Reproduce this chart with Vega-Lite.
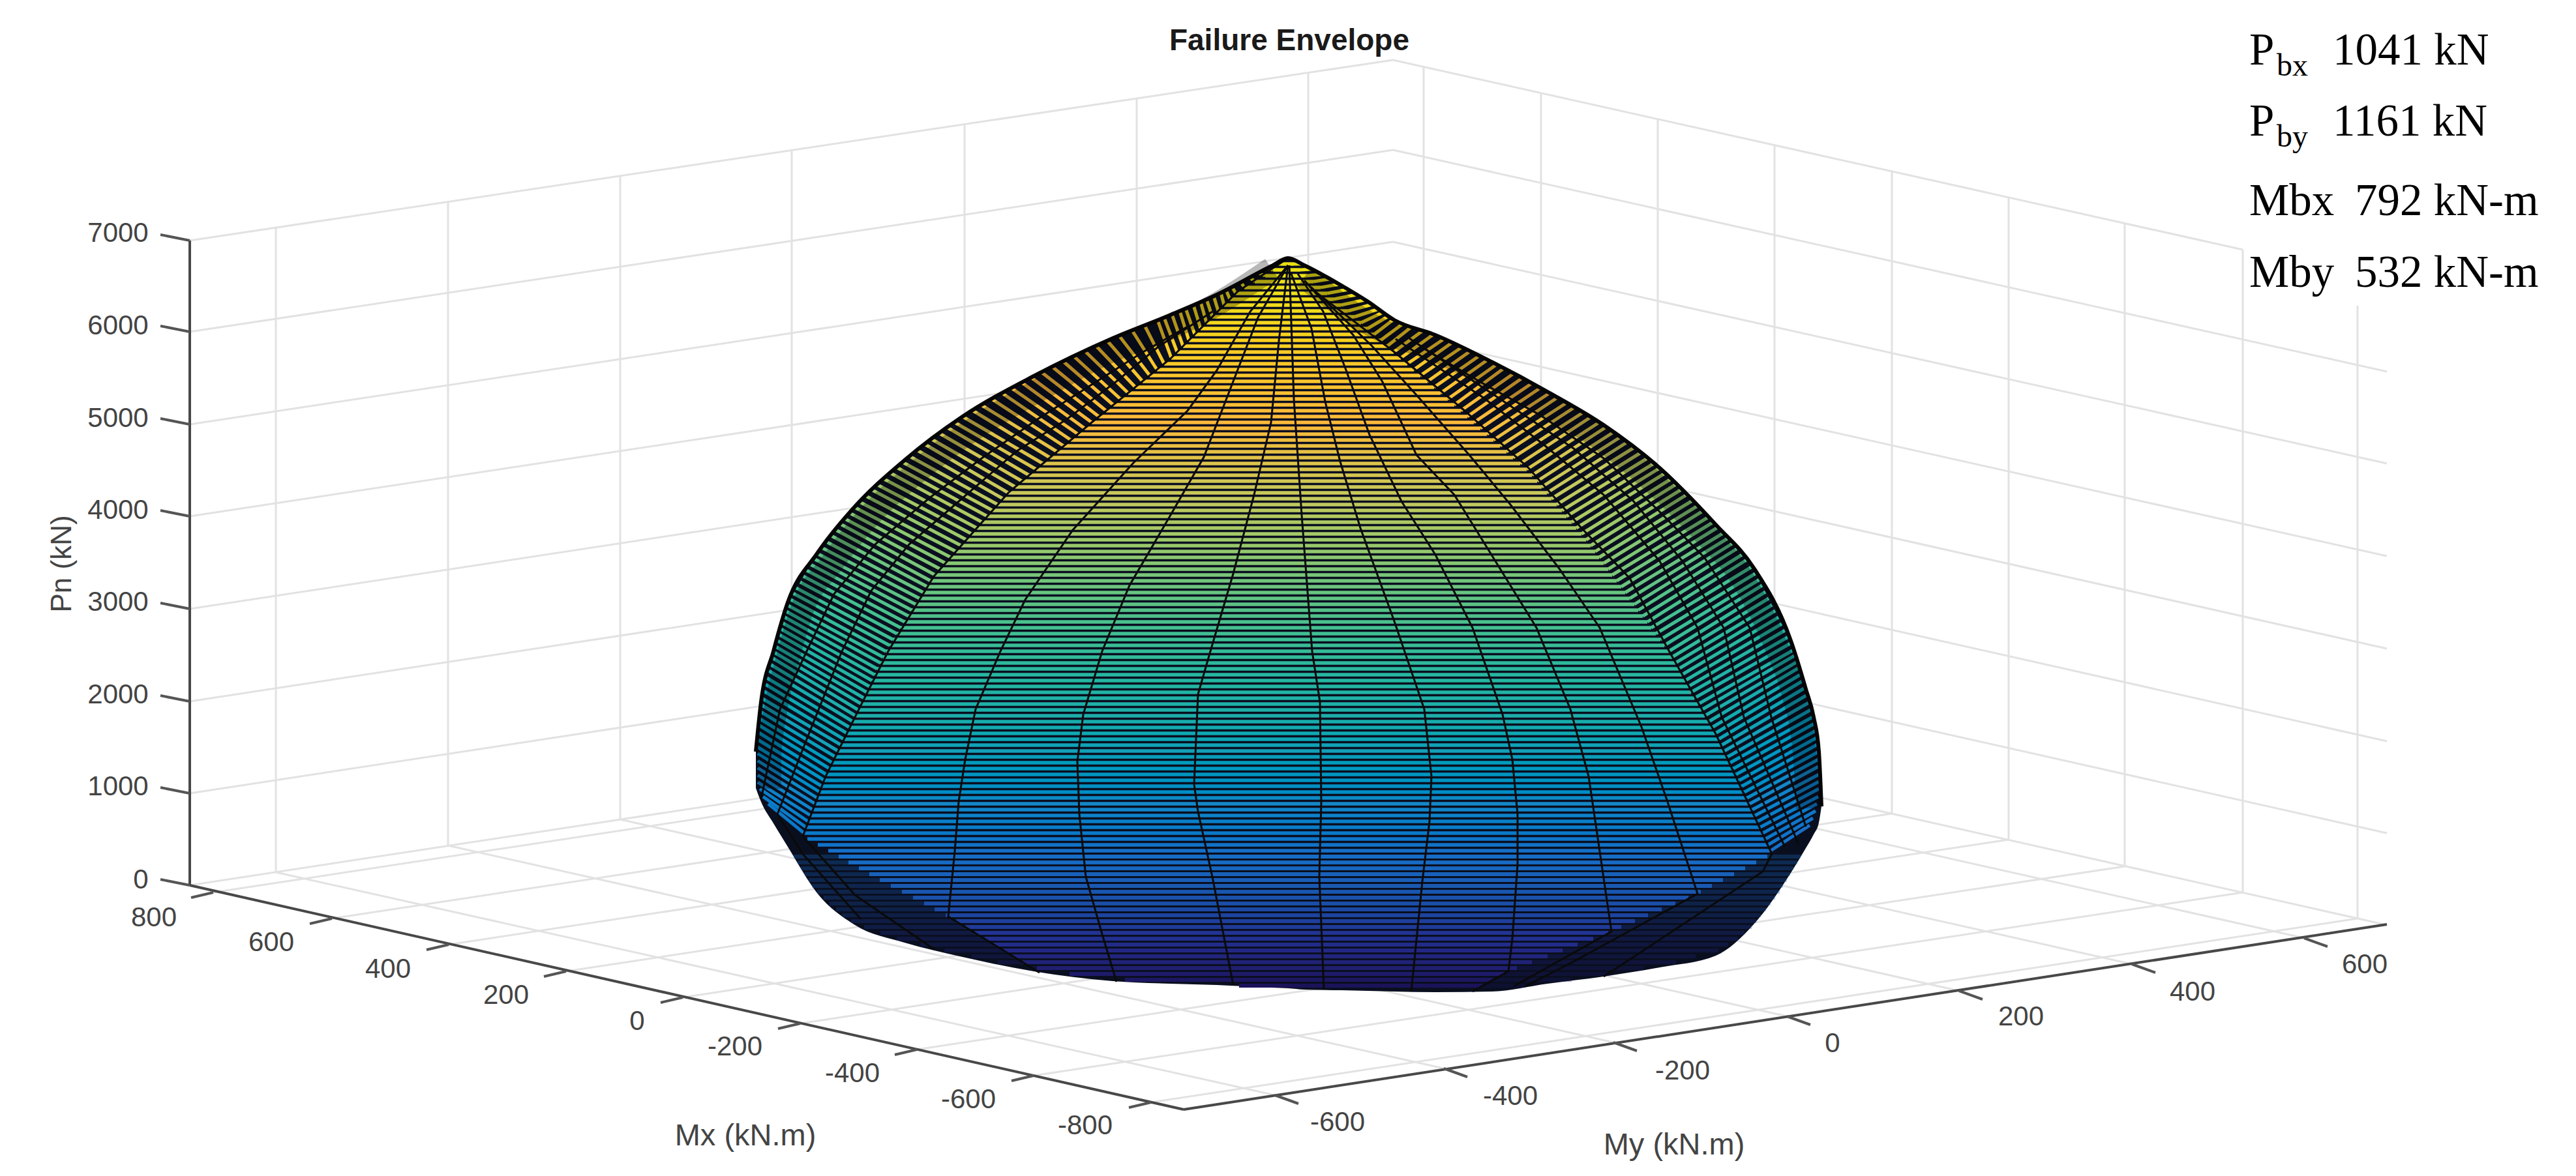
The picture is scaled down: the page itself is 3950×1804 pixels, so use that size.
{"$schema":"https://vega.github.io/schema/vega-lite/v6.json","width":3950,"height":1804,"padding":0,"autosize":{"type":"fit","contains":"padding"},"background":"white","view":{"stroke":null},
"datasets":{
"grid":[
{"u":291,"v":369,"u2":2136,"v2":92},{"u":291,"v":509,"u2":2136,"v2":230},{"u":291,"v":651,"u2":2136,"v2":371},{"u":291,"v":792,"u2":2136,"v2":512},{"u":291,"v":934,"u2":2136,"v2":653},{"u":291,"v":1076,"u2":2136,"v2":794},{"u":291,"v":1217,"u2":2136,"v2":935},{"u":291,"v":1358,"u2":2136,"v2":1076},
{"u":2136,"v":92,"u2":3439,"v2":383},{"u":2136,"v":230,"u2":3660,"v2":570},{"u":2136,"v":371,"u2":3660,"v2":711},{"u":2136,"v":512,"u2":3660,"v2":853},{"u":2136,"v":653,"u2":3660,"v2":995},{"u":2136,"v":794,"u2":3660,"v2":1137},{"u":2136,"v":935,"u2":3660,"v2":1278},{"u":2136,"v":1076,"u2":3660,"v2":1419},
{"u":423,"v":349,"u2":423,"v2":1338},{"u":687,"v":310,"u2":687,"v2":1297},{"u":951,"v":270,"u2":951,"v2":1257},{"u":1214,"v":230,"u2":1214,"v2":1217},{"u":1479,"v":191,"u2":1479,"v2":1176},{"u":1743,"v":151,"u2":1743,"v2":1136},{"u":2006,"v":112,"u2":2006,"v2":1096},
{"u":2183,"v":102,"u2":2183,"v2":1087},{"u":2363,"v":143,"u2":2363,"v2":1127},{"u":2542,"v":183,"u2":2542,"v2":1167},{"u":2721,"v":223,"u2":2721,"v2":1208},{"u":2901,"v":263,"u2":2901,"v2":1248},{"u":3080,"v":303,"u2":3080,"v2":1288},{"u":3258,"v":342,"u2":3258,"v2":1329},{"u":3439,"v":383,"u2":3439,"v2":1369},{"u":3615,"v":469,"u2":3615,"v2":1409},
{"u":327,"v":1369,"u2":2183,"v2":1087},{"u":509,"v":1409,"u2":2363,"v2":1127},{"u":688,"v":1449,"u2":2542,"v2":1167},{"u":868,"v":1490,"u2":2721,"v2":1208},{"u":1047,"v":1530,"u2":2901,"v2":1248},{"u":1227,"v":1570,"u2":3080,"v2":1288},{"u":1406,"v":1610,"u2":3258,"v2":1329},{"u":1585,"v":1650,"u2":3439,"v2":1369},{"u":1765,"v":1691,"u2":3615,"v2":1409},
{"u":423,"v":1338,"u2":1955,"v2":1680},{"u":687,"v":1297,"u2":2214,"v2":1639},{"u":951,"v":1257,"u2":2474,"v2":1599},{"u":1214,"v":1217,"u2":2740,"v2":1559},{"u":1479,"v":1176,"u2":3004,"v2":1520},{"u":1743,"v":1136,"u2":3269,"v2":1479},{"u":2006,"v":1096,"u2":3533,"v2":1439}
],
"axes":[{"u":291,"v":369,"u2":291,"v2":1358},{"u":291,"v":1358,"u2":1815,"v2":1702},{"u":1815,"v":1702,"u2":3660,"v2":1418}],
"ticks":[
{"u":291,"v":369,"u2":246,"v2":360},{"u":291,"v":509,"u2":246,"v2":500},{"u":291,"v":651,"u2":246,"v2":642},{"u":291,"v":792,"u2":246,"v2":783},{"u":291,"v":934,"u2":246,"v2":925},{"u":291,"v":1076,"u2":246,"v2":1067},{"u":291,"v":1217,"u2":246,"v2":1208},{"u":291,"v":1358,"u2":246,"v2":1349},
{"u":327,"v":1369,"u2":293,"v2":1377},{"u":509,"v":1409,"u2":475,"v2":1417},{"u":688,"v":1449,"u2":654,"v2":1457},{"u":868,"v":1490,"u2":834,"v2":1498},{"u":1047,"v":1530,"u2":1013,"v2":1538},{"u":1227,"v":1570,"u2":1193,"v2":1578},{"u":1406,"v":1610,"u2":1372,"v2":1618},{"u":1585,"v":1650,"u2":1551,"v2":1658},{"u":1765,"v":1691,"u2":1731,"v2":1699},
{"u":1955,"v":1680,"u2":1991,"v2":1693},{"u":2214,"v":1639,"u2":2250,"v2":1652},{"u":2474,"v":1599,"u2":2510,"v2":1612},{"u":2740,"v":1559,"u2":2776,"v2":1572},{"u":3004,"v":1520,"u2":3040,"v2":1533},{"u":3269,"v":1479,"u2":3305,"v2":1492},{"u":3533,"v":1439,"u2":3569,"v2":1452}
],
"tickLabels":[
{"t":"7000","u":181,"v":358},{"t":"6000","u":181,"v":500},{"t":"5000","u":181,"v":642},{"t":"4000","u":181,"v":783},{"t":"3000","u":181,"v":924},{"t":"2000","u":181,"v":1066},{"t":"1000","u":181,"v":1207},{"t":"0","u":216,"v":1350},
{"t":"800","u":236,"v":1408},{"t":"600","u":416,"v":1446},{"t":"400","u":595,"v":1487},{"t":"200","u":776,"v":1527},{"t":"0","u":977,"v":1567},{"t":"-200","u":1127,"v":1606},{"t":"-400","u":1307,"v":1647},{"t":"-600","u":1485,"v":1687},{"t":"-800","u":1664,"v":1727},
{"t":"-600","u":2051,"v":1722},{"t":"-400","u":2316,"v":1682},{"t":"-200","u":2580,"v":1643},{"t":"0","u":2810,"v":1601},{"t":"200","u":3099,"v":1560},{"t":"400","u":3362,"v":1522},{"t":"600","u":3626,"v":1480}
],
"axisTitles":[{"t":"Mx (kN.m)","u":1143,"v":1743},{"t":"My (kN.m)","u":2567,"v":1757}],
"notes":[{"t":"P","u":3449,"v":99},{"t":"1041 kN","u":3577,"v":99},{"t":"P","u":3449,"v":208},{"t":"1161 kN","u":3577,"v":208},{"t":"Mbx","u":3449,"v":330},{"t":"792 kN-m","u":3611,"v":330},{"t":"Mby","u":3449,"v":440},{"t":"532 kN-m","u":3611,"v":440}],
"subs":[{"t":"bx","u":3491,"v":116},{"t":"by","u":3491,"v":225}],
"hull":[{"u":1159,"v":1153,"b":1209},{"u":1167,"v":1077,"b":1230},{"u":1186,"v":999,"b":1263},{"u":1208,"v":924,"b":1299},{"u":1253,"v":849,"b":1370},{"u":1311,"v":777,"b":1419},{"u":1387,"v":706,"b":1446},{"u":1476,"v":639,"b":1468},{"u":1585,"v":577,"b":1490},{"u":1706,"v":519,"b":1505},{"u":1795,"v":483,"b":1509},{"u":1866,"v":452,"b":1511},{"u":1950,"v":408,"b":1515},{"u":1975,"v":396,"b":1516},{"u":2000,"v":407,"b":1518},{"u":2057,"v":438,"b":1519},{"u":2098,"v":463,"b":1520},{"u":2138,"v":491,"b":1521},{"u":2201,"v":514,"b":1522},{"u":2287,"v":555,"b":1521},{"u":2373,"v":601,"b":1509},{"u":2459,"v":652,"b":1498},{"u":2545,"v":718,"b":1484},{"u":2631,"v":805,"b":1466},{"u":2689,"v":871,"b":1418},{"u":2746,"v":983,"b":1339},{"u":2769,"v":1057,"b":1301},{"u":2781,"v":1100,"b":1280},{"u":2789,"v":1153,"b":1262},{"u":2793,"v":1237,"b":1237}],
"shade":[
{"m":"l","u":1950,"v":412},{"m":"l","u":1860,"v":470},{"m":"l","u":1790,"v":505},{"m":"l","u":1700,"v":540},{"m":"l","u":1590,"v":600},{"m":"l","u":1490,"v":660},{"m":"l","u":1405,"v":725},{"m":"l","u":1330,"v":795},{"m":"l","u":1275,"v":865},{"m":"l","u":1230,"v":935},{"m":"l","u":1208,"v":1010},{"m":"l","u":1190,"v":1085},{"m":"l","u":1180,"v":1160},{"m":"l","u":1180,"v":1210},
{"m":"r","u":2000,"v":425},{"m":"r","u":2125,"v":510},{"m":"r","u":2195,"v":535},{"m":"r","u":2280,"v":575},{"m":"r","u":2365,"v":620},{"m":"r","u":2450,"v":670},{"m":"r","u":2530,"v":735},{"m":"r","u":2615,"v":820},{"m":"r","u":2670,"v":885},{"m":"r","u":2725,"v":995},{"m":"r","u":2750,"v":1065},{"m":"r","u":2767,"v":1155},{"m":"r","u":2772,"v":1240}
],
"bands":[
{"v":405,"lu":1958,"lv":405,"ax":1964,"bx":1984,"ru":1995,"rv":405},{"v":414,"lu":1944,"lv":412,"ax":1952,"bx":1994,"ru":2011,"rv":413},{"v":423,"lu":1930,"lv":419,"ax":1940,"bx":2003,"ru":2026,"rv":421},{"v":432,"lu":1917,"lv":426,"ax":1924,"bx":2014,"ru":2039,"rv":428},{"v":441,"lu":1903,"lv":433,"ax":1908,"bx":2025,"ru":2054,"rv":436},{"v":450,"lu":1889,"lv":440,"ax":1895,"bx":2035,"ru":2067,"rv":444},{"v":459,"lu":1880,"lv":445,"ax":1886,"bx":2045,"ru":2080,"rv":452},{"v":468,"lu":1872,"lv":449,"ax":1877,"bx":2056,"ru":2093,"rv":460},{"v":477,"lu":1861,"lv":454,"ax":1868,"bx":2067,"ru":2104,"rv":467},{"v":486,"lu":1850,"lv":459,"ax":1859,"bx":2077,"ru":2114,"rv":474},{"v":495,"lu":1841,"lv":463,"ax":1850,"bx":2087,"ru":2121,"rv":479},{"v":504,"lu":1830,"lv":468,"ax":1841,"bx":2097,"ru":2129,"rv":485},{"v":513,"lu":1818,"lv":473,"ax":1832,"bx":2107,"ru":2137,"rv":490},{"v":522,"lu":1809,"lv":477,"ax":1823,"bx":2117,"ru":2152,"rv":496},{"v":531,"lu":1797,"lv":482,"ax":1814,"bx":2127,"ru":2165,"rv":501},{"v":540,"lu":1785,"lv":487,"ax":1805,"bx":2137,"ru":2182,"rv":507},{"v":549,"lu":1775,"lv":491,"ax":1796,"bx":2148,"ru":2198,"rv":513},
{"v":558,"lu":1755,"lv":499,"ax":1785,"bx":2158,"ru":2214,"rv":520},{"v":567,"lu":1736,"lv":507,"ax":1774,"bx":2168,"ru":2226,"rv":526},{"v":576,"lu":1716,"lv":515,"ax":1763,"bx":2178,"ru":2241,"rv":533},{"v":585,"lu":1698,"lv":523,"ax":1752,"bx":2189,"ru":2254,"rv":539},{"v":594,"lu":1681,"lv":531,"ax":1741,"bx":2199,"ru":2268,"rv":546},{"v":603,"lu":1664,"lv":539,"ax":1730,"bx":2209,"ru":2281,"rv":552},{"v":612,"lu":1647,"lv":547,"ax":1718,"bx":2220,"ru":2295,"rv":559},{"v":621,"lu":1631,"lv":555,"ax":1707,"bx":2230,"ru":2306,"rv":565},{"v":630,"lu":1614,"lv":563,"ax":1696,"bx":2240,"ru":2321,"rv":573},{"v":639,"lu":1597,"lv":571,"ax":1685,"bx":2250,"ru":2334,"rv":580},{"v":648,"lu":1581,"lv":579,"ax":1674,"bx":2260,"ru":2349,"rv":588},{"v":657,"lu":1567,"lv":587,"ax":1663,"bx":2270,"ru":2362,"rv":595},{"v":666,"lu":1552,"lv":596,"ax":1653,"bx":2280,"ru":2376,"rv":603},{"v":675,"lu":1538,"lv":604,"ax":1642,"bx":2290,"ru":2388,"rv":610},{"v":684,"lu":1522,"lv":613,"ax":1631,"bx":2300,"ru":2402,"rv":618},{"v":693,"lu":1506,"lv":622,"ax":1621,"bx":2310,"ru":2414,"rv":625},{"v":702,"lu":1492,"lv":630,"ax":1610,"bx":2320,"ru":2427,"rv":633},{"v":711,"lu":1476,"lv":639,"ax":1599,"bx":2331,"ru":2439,"rv":640},{"v":720,"lu":1464,"lv":648,"ax":1589,"bx":2341,"ru":2452,"rv":648},
{"v":729,"lu":1453,"lv":656,"ax":1578,"bx":2349,"ru":2463,"rv":655},{"v":738,"lu":1441,"lv":665,"ax":1567,"bx":2357,"ru":2474,"rv":663},{"v":747,"lu":1429,"lv":674,"ax":1557,"bx":2364,"ru":2484,"rv":671},{"v":756,"lu":1419,"lv":682,"ax":1546,"bx":2372,"ru":2494,"rv":679},{"v":765,"lu":1407,"lv":691,"ax":1538,"bx":2379,"ru":2505,"rv":687},{"v":774,"lu":1395,"lv":700,"ax":1530,"bx":2387,"ru":2515,"rv":695},{"v":783,"lu":1384,"lv":709,"ax":1522,"bx":2395,"ru":2526,"rv":703},{"v":792,"lu":1375,"lv":717,"ax":1514,"bx":2402,"ru":2536,"rv":711},{"v":801,"lu":1366,"lv":726,"ax":1506,"bx":2410,"ru":2545,"rv":718},{"v":810,"lu":1356,"lv":735,"ax":1498,"bx":2417,"ru":2553,"rv":726},{"v":819,"lu":1346,"lv":744,"ax":1490,"bx":2425,"ru":2562,"rv":735},{"v":828,"lu":1338,"lv":752,"ax":1482,"bx":2432,"ru":2570,"rv":743},{"v":837,"lu":1328,"lv":761,"ax":1474,"bx":2439,"ru":2578,"rv":751},{"v":846,"lu":1318,"lv":770,"ax":1466,"bx":2446,"ru":2586,"rv":759},{"v":855,"lu":1310,"lv":778,"ax":1458,"bx":2452,"ru":2595,"rv":768},{"v":864,"lu":1303,"lv":787,"ax":1450,"bx":2459,"ru":2603,"rv":776},{"v":873,"lu":1296,"lv":796,"ax":1442,"bx":2466,"ru":2611,"rv":784},{"v":882,"lu":1289,"lv":804,"ax":1434,"bx":2472,"ru":2620,"rv":793},{"v":891,"lu":1282,"lv":813,"ax":1427,"bx":2479,"ru":2627,"rv":801},
{"v":900,"lu":1275,"lv":822,"ax":1422,"bx":2486,"ru":2634,"rv":809},{"v":909,"lu":1267,"lv":831,"ax":1416,"bx":2492,"ru":2642,"rv":818},{"v":918,"lu":1260,"lv":840,"ax":1410,"bx":2499,"ru":2649,"rv":826},{"v":927,"lu":1253,"lv":849,"ax":1404,"bx":2506,"ru":2656,"rv":834},{"v":936,"lu":1248,"lv":857,"ax":1398,"bx":2512,"ru":2663,"rv":842},{"v":945,"lu":1243,"lv":866,"ax":1393,"bx":2519,"ru":2671,"rv":851},{"v":954,"lu":1237,"lv":875,"ax":1387,"bx":2526,"ru":2678,"rv":859},{"v":963,"lu":1232,"lv":884,"ax":1381,"bx":2532,"ru":2687,"rv":869},{"v":972,"lu":1227,"lv":893,"ax":1375,"bx":2539,"ru":2693,"rv":879},{"v":981,"lu":1221,"lv":902,"ax":1369,"bx":2546,"ru":2698,"rv":889},{"v":990,"lu":1216,"lv":910,"ax":1364,"bx":2552,"ru":2702,"rv":898},{"v":999,"lu":1211,"lv":919,"ax":1358,"bx":2559,"ru":2707,"rv":908},{"v":1008,"lu":1207,"lv":928,"ax":1354,"bx":2564,"ru":2712,"rv":918},{"v":1017,"lu":1204,"lv":937,"ax":1350,"bx":2569,"ru":2717,"rv":928},{"v":1026,"lu":1202,"lv":946,"ax":1345,"bx":2574,"ru":2722,"rv":937},{"v":1035,"lu":1199,"lv":955,"ax":1341,"bx":2579,"ru":2727,"rv":947},{"v":1044,"lu":1196,"lv":964,"ax":1337,"bx":2584,"ru":2732,"rv":957},{"v":1053,"lu":1194,"lv":973,"ax":1333,"bx":2589,"ru":2737,"rv":967},{"v":1062,"lu":1191,"lv":982,"ax":1329,"bx":2593,"ru":2742,"rv":977},{"v":1071,"lu":1188,"lv":991,"ax":1325,"bx":2598,"ru":2747,"rv":986},{"v":1080,"lu":1186,"lv":1000,"ax":1321,"bx":2604,"ru":2752,"rv":996},
{"v":1089,"lu":1184,"lv":1009,"ax":1316,"bx":2609,"ru":2753,"rv":1005},{"v":1098,"lu":1181,"lv":1019,"ax":1312,"bx":2614,"ru":2756,"rv":1015},{"v":1107,"lu":1179,"lv":1029,"ax":1308,"bx":2620,"ru":2759,"rv":1024},{"v":1116,"lu":1176,"lv":1040,"ax":1303,"bx":2625,"ru":2762,"rv":1034},{"v":1125,"lu":1174,"lv":1050,"ax":1299,"bx":2630,"ru":2765,"rv":1044},{"v":1134,"lu":1171,"lv":1060,"ax":1294,"bx":2635,"ru":2768,"rv":1055},{"v":1143,"lu":1168,"lv":1071,"ax":1290,"bx":2640,"ru":2771,"rv":1066},{"v":1152,"lu":1167,"lv":1081,"ax":1285,"bx":2644,"ru":2775,"rv":1077},{"v":1161,"lu":1165,"lv":1091,"ax":1281,"bx":2649,"ru":2778,"rv":1088},{"v":1170,"lu":1164,"lv":1102,"ax":1276,"bx":2653,"ru":2781,"rv":1099},{"v":1179,"lu":1163,"lv":1112,"ax":1272,"bx":2658,"ru":2782,"rv":1110},{"v":1188,"lu":1162,"lv":1123,"ax":1267,"bx":2662,"ru":2784,"rv":1121},{"v":1197,"lu":1161,"lv":1134,"ax":1264,"bx":2667,"ru":2785,"rv":1132},{"v":1206,"lu":1160,"lv":1145,"ax":1260,"bx":2671,"ru":2787,"rv":1142},{"v":1215,"lu":1162,"lv":1156,"ax":1257,"bx":2675,"ru":2787,"rv":1154},{"v":1224,"lu":1162,"lv":1167,"ax":1253,"bx":2679,"ru":2788,"rv":1165},{"v":1233,"lu":1162,"lv":1178,"ax":1250,"bx":2683,"ru":2788,"rv":1176},{"v":1242,"lu":1162,"lv":1189,"ax":1246,"bx":2687,"ru":2789,"rv":1188},{"v":1251,"lu":1162,"lv":1200,"ax":1243,"bx":2691,"ru":2789,"rv":1199},{"v":1260,"lu":1165,"lv":1210,"ax":1239,"bx":2695,"ru":2789,"rv":1210},{"v":1269,"lu":1170,"lv":1222,"ax":1236,"bx":2699,"ru":2788,"rv":1222},{"v":1278,"lu":1178,"lv":1233,"ax":1233,"bx":2703,"ru":2786,"rv":1233},{"v":1287,"lu":1238,"lv":1287,"ax":1238,"bx":2707,"ru":2784,"rv":1244},{"v":1296,"lu":1254,"lv":1296,"ax":1254,"bx":2711,"ru":2780,"rv":1255},{"v":1305,"lu":1270,"lv":1305,"ax":1270,"bx":2715,"ru":2775,"rv":1266}
],
"lowBands":[
{"v":1314,"ax":1286,"bx":2710,"hl":1217,"hr":2761},{"v":1323,"ax":1301,"bx":2693,"hl":1223,"hr":2756},{"v":1332,"ax":1317,"bx":2676,"hl":1228,"hr":2750},{"v":1341,"ax":1333,"bx":2659,"hl":1234,"hr":2745},{"v":1350,"ax":1349,"bx":2642,"hl":1240,"hr":2740},{"v":1359,"ax":1366,"bx":2625,"hl":1245,"hr":2734},{"v":1368,"ax":1383,"bx":2608,"hl":1253,"hr":2729},{"v":1377,"ax":1400,"bx":2589,"hl":1263,"hr":2722},{"v":1386,"ax":1417,"bx":2569,"hl":1272,"hr":2715},{"v":1395,"ax":1433,"bx":2548,"hl":1282,"hr":2708},{"v":1404,"ax":1450,"bx":2527,"hl":1291,"hr":2700},{"v":1413,"ax":1466,"bx":2507,"hl":1305,"hr":2693},{"v":1422,"ax":1480,"bx":2486,"hl":1325,"hr":2686},{"v":1431,"ax":1495,"bx":2466,"hl":1350,"hr":2675},{"v":1440,"ax":1510,"bx":2443,"hl":1375,"hr":2665},{"v":1449,"ax":1524,"bx":2419,"hl":1412,"hr":2650},{"v":1458,"ax":1539,"bx":2396,"hl":1448,"hr":2635},{"v":1467,"ax":1553,"bx":2373,"hl":1490,"hr":2600},{"v":1476,"ax":1568,"bx":2349,"hl":1530,"hr":2570},{"v":1485,"ax":1590,"bx":2326,"hl":1580,"hr":2520},{"v":1494,"ax":1640,"bx":2306,"hl":1640,"hr":2470},{"v":1503,"ax":1725,"bx":2290,"hl":1725,"hr":2410},{"v":1512,"ax":1900,"bx":2274,"hl":1900,"hr":2340}
],
"meridians":[
{"m":"a","u":1975,"v":396},{"m":"a","u":1898,"v":447},{"m":"a","u":1795,"v":550},{"m":"a","u":1674,"v":648},{"m":"a","u":1547,"v":755},{"m":"a","u":1432,"v":884},{"m":"a","u":1362,"v":999},{"m":"a","u":1317,"v":1088},{"m":"a","u":1266,"v":1191},{"m":"a","u":1231,"v":1283},{"m":"a","u":1311,"v":1373},{"m":"a","u":1432,"v":1456},
{"m":"b","u":1821,"v":501},{"m":"b","u":1751,"v":541},{"m":"b","u":1674,"v":590},{"m":"b","u":1591,"v":643},{"m":"b","u":1508,"v":701},{"m":"b","u":1425,"v":764},{"m":"b","u":1342,"v":835},{"m":"b","u":1279,"v":911},{"m":"b","u":1237,"v":999},{"m":"b","u":1196,"v":1088},{"m":"b","u":1167,"v":1226},
{"m":"c","u":1859,"v":478},{"m":"c","u":1776,"v":532},{"m":"c","u":1712,"v":585},{"m":"c","u":1636,"v":643},{"m":"c","u":1559,"v":692},{"m":"c","u":1476,"v":764},{"m":"c","u":1394,"v":835},{"m":"c","u":1336,"v":906},{"m":"c","u":1291,"v":999},{"m":"c","u":1237,"v":1134},{"m":"c","u":1192,"v":1249},{"m":"c","u":1231,"v":1310},{"m":"c","u":1320,"v":1410},
{"m":"d","u":1975,"v":407},{"m":"d","u":1917,"v":478},{"m":"d","u":1866,"v":568},{"m":"d","u":1821,"v":630},{"m":"d","u":1738,"v":710},{"m":"d","u":1645,"v":813},{"m":"d","u":1572,"v":920},{"m":"d","u":1534,"v":999},{"m":"d","u":1496,"v":1088},{"m":"d","u":1480,"v":1165},{"m":"d","u":1470,"v":1230},{"m":"d","u":1464,"v":1306},{"m":"d","u":1454,"v":1406},{"m":"d","u":1594,"v":1492},
{"m":"e","u":1975,"v":407},{"m":"e","u":1929,"v":487},{"m":"e","u":1891,"v":585},{"m":"e","u":1846,"v":701},{"m":"e","u":1795,"v":790},{"m":"e","u":1732,"v":898},{"m":"e","u":1690,"v":999},{"m":"e","u":1661,"v":1096},{"m":"e","u":1652,"v":1168},{"m":"e","u":1655,"v":1249},{"m":"e","u":1665,"v":1345},{"m":"e","u":1690,"v":1433},{"m":"e","u":1712,"v":1506},
{"m":"f","u":1975,"v":407},{"m":"f","u":1961,"v":523},{"m":"f","u":1949,"v":648},{"m":"f","u":1923,"v":759},{"m":"f","u":1891,"v":880},{"m":"f","u":1856,"v":999},{"m":"f","u":1837,"v":1065},{"m":"f","u":1831,"v":1203},{"m":"f","u":1837,"v":1245},{"m":"f","u":1859,"v":1345},{"m":"f","u":1891,"v":1511},
{"m":"g","u":1977,"v":407},{"m":"g","u":1984,"v":612},{"m":"g","u":1996,"v":790},{"m":"g","u":2012,"v":999},{"m":"g","u":2024,"v":1077},{"m":"g","u":2026,"v":1230},{"m":"g","u":2023,"v":1345},{"m":"g","u":2030,"v":1518},
{"m":"h","u":1980,"v":420},{"m":"h","u":2011,"v":504},{"m":"h","u":2032,"v":616},{"m":"h","u":2055,"v":708},{"m":"h","u":2086,"v":810},{"m":"h","u":2138,"v":953},{"m":"h","u":2184,"v":1088},{"m":"h","u":2195,"v":1191},{"m":"h","u":2192,"v":1260},{"m":"h","u":2181,"v":1352},{"m":"h","u":2164,"v":1521},
{"m":"i","u":1990,"v":420},{"m":"i","u":2029,"v":478},{"m":"i","u":2063,"v":565},{"m":"i","u":2100,"v":667},{"m":"i","u":2149,"v":769},{"m":"i","u":2201,"v":851},{"m":"i","u":2258,"v":963},{"m":"i","u":2304,"v":1096},{"m":"i","u":2319,"v":1165},{"m":"i","u":2327,"v":1249},{"m":"i","u":2327,"v":1326},{"m":"i","u":2319,"v":1440},{"m":"i","u":2313,"v":1490},{"m":"i","u":2258,"v":1521},
{"m":"j","u":2000,"v":430},{"m":"j","u":2075,"v":514},{"m":"j","u":2120,"v":586},{"m":"j","u":2172,"v":698},{"m":"j","u":2230,"v":759},{"m":"j","u":2287,"v":851},{"m":"j","u":2356,"v":963},{"m":"j","u":2408,"v":1088},{"m":"j","u":2436,"v":1191},{"m":"j","u":2453,"v":1306},{"m":"j","u":2471,"v":1429},{"m":"j","u":2321,"v":1513},
{"m":"k","u":2010,"v":440},{"m":"k","u":2103,"v":530},{"m":"k","u":2172,"v":606},{"m":"k","u":2253,"v":698},{"m":"k","u":2316,"v":774},{"m":"k","u":2390,"v":871},{"m":"k","u":2453,"v":963},{"m":"k","u":2517,"v":1115},{"m":"k","u":2557,"v":1230},{"m":"k","u":2603,"v":1371},{"m":"k","u":2413,"v":1475},{"m":"k","u":2339,"v":1513},
{"m":"l","u":2020,"v":450},{"m":"l","u":2138,"v":540},{"m":"l","u":2247,"v":631},{"m":"l","u":2344,"v":718},{"m":"l","u":2425,"v":810},{"m":"l","u":2499,"v":887},{"m":"l","u":2560,"v":1000},{"m":"l","u":2631,"v":1126},{"m":"l","u":2717,"v":1310},{"m":"l","u":2703,"v":1337},{"m":"l","u":2517,"v":1460},{"m":"l","u":2459,"v":1498},
{"m":"n","u":2140,"v":520},{"m":"n","u":2276,"v":611},{"m":"n","u":2367,"v":682},{"m":"n","u":2459,"v":759},{"m":"n","u":2545,"v":861},{"m":"n","u":2603,"v":963},{"m":"n","u":2640,"v":1100},{"m":"n","u":2737,"v":1299},
{"m":"o","u":2161,"v":519},{"m":"o","u":2230,"v":565},{"m":"o","u":2321,"v":626},{"m":"o","u":2413,"v":688},{"m":"o","u":2505,"v":769},{"m":"o","u":2580,"v":861},{"m":"o","u":2643,"v":963},{"m":"o","u":2674,"v":1100},{"m":"o","u":2758,"v":1295},
{"m":"p","u":2184,"v":535},{"m":"p","u":2270,"v":586},{"m":"p","u":2362,"v":637},{"m":"p","u":2459,"v":703},{"m":"p","u":2545,"v":785},{"m":"p","u":2614,"v":856},{"m":"p","u":2683,"v":963},{"m":"p","u":2716,"v":1100},{"m":"p","u":2769,"v":1268}
]
},
"layer":[
{"data":{"name":"grid"},"mark":{"type":"rule","stroke":"#e2e2e2","strokeWidth":3},"encoding":{"x":{"field":"u","type":"quantitative","axis":null,"scale":{"domain":[0,3950],"nice":false,"zero":false}},"y":{"field":"v","type":"quantitative","axis":null,"scale":{"domain":[1804,0],"nice":false,"zero":false}},"x2":{"field":"u2"},"y2":{"field":"v2"}}},
{"data":{"name":"axes"},"mark":{"type":"rule","stroke":"#484848","strokeWidth":4},"encoding":{"x":{"field":"u","type":"quantitative","axis":null,"scale":{"domain":[0,3950],"nice":false,"zero":false}},"y":{"field":"v","type":"quantitative","axis":null,"scale":{"domain":[1804,0],"nice":false,"zero":false}},"x2":{"field":"u2"},"y2":{"field":"v2"}}},
{"data":{"name":"ticks"},"mark":{"type":"rule","stroke":"#555555","strokeWidth":4},"encoding":{"x":{"field":"u","type":"quantitative","axis":null,"scale":{"domain":[0,3950],"nice":false,"zero":false}},"y":{"field":"v","type":"quantitative","axis":null,"scale":{"domain":[1804,0],"nice":false,"zero":false}},"x2":{"field":"u2"},"y2":{"field":"v2"}}},
{"data":{"name":"tickLabels"},"mark":{"type":"text","font":"Liberation Sans","fontSize":42,"fill":"#444444","align":"center","baseline":"middle"},"encoding":{"text":{"field":"t"},"x":{"field":"u","type":"quantitative","axis":null,"scale":{"domain":[0,3950],"nice":false,"zero":false}},"y":{"field":"v","type":"quantitative","axis":null,"scale":{"domain":[1804,0],"nice":false,"zero":false}}}},
{"data":{"name":"axisTitles"},"mark":{"type":"text","font":"Liberation Sans","fontSize":47,"fill":"#444444","align":"center","baseline":"middle"},"encoding":{"text":{"field":"t"},"x":{"field":"u","type":"quantitative","axis":null,"scale":{"domain":[0,3950],"nice":false,"zero":false}},"y":{"field":"v","type":"quantitative","axis":null,"scale":{"domain":[1804,0],"nice":false,"zero":false}}}},
{"data":{"values":[{"t":"Pn (kN)","u":96,"v":865}]},"mark":{"type":"text","font":"Liberation Sans","fontSize":44,"fill":"#444444","angle":270,"align":"center","baseline":"middle"},"encoding":{"text":{"field":"t"},"x":{"field":"u","type":"quantitative","axis":null,"scale":{"domain":[0,3950],"nice":false,"zero":false}},"y":{"field":"v","type":"quantitative","axis":null,"scale":{"domain":[1804,0],"nice":false,"zero":false}}}},
{"data":{"values":[{"t":"Failure Envelope","u":1977,"v":63}]},"mark":{"type":"text","font":"Liberation Sans","fontWeight":"bold","fontSize":46,"fill":"#1a1a1a","align":"center","baseline":"middle"},"encoding":{"text":{"field":"t"},"x":{"field":"u","type":"quantitative","axis":null,"scale":{"domain":[0,3950],"nice":false,"zero":false}},"y":{"field":"v","type":"quantitative","axis":null,"scale":{"domain":[1804,0],"nice":false,"zero":false}}}},
{"data":{"name":"notes"},"mark":{"type":"text","font":"Liberation Serif","fontSize":69,"fill":"#000000","align":"left","baseline":"alphabetic"},"encoding":{"text":{"field":"t"},"x":{"field":"u","type":"quantitative","axis":null,"scale":{"domain":[0,3950],"nice":false,"zero":false}},"y":{"field":"v","type":"quantitative","axis":null,"scale":{"domain":[1804,0],"nice":false,"zero":false}}}},
{"data":{"name":"subs"},"mark":{"type":"text","font":"Liberation Serif","fontSize":48,"fill":"#000000","align":"left","baseline":"alphabetic"},"encoding":{"text":{"field":"t"},"x":{"field":"u","type":"quantitative","axis":null,"scale":{"domain":[0,3950],"nice":false,"zero":false}},"y":{"field":"v","type":"quantitative","axis":null,"scale":{"domain":[1804,0],"nice":false,"zero":false}}}},
{"data":{"name":"hull"},"mark":{"type":"area","fill":"#0a0f20","interpolate":"monotone"},"encoding":{"x":{"field":"u","type":"quantitative","axis":null,"scale":{"domain":[0,3950],"nice":false,"zero":false}},"y":{"field":"v","type":"quantitative","axis":null,"scale":{"domain":[1804,0],"nice":false,"zero":false}},"y2":{"field":"b"}}},
{"data":{"name":"lowBands"},"mark":{"type":"rule","strokeWidth":6,"opacity":0.3},"encoding":{"x":{"field":"hl","type":"quantitative","axis":null,"scale":{"domain":[0,3950],"nice":false,"zero":false}},"x2":{"field":"hr"},"y":{"field":"v","type":"quantitative","axis":null,"scale":{"domain":[1804,0],"nice":false,"zero":false}},"y2":{"field":"v"},"color":{"field":"v","type":"quantitative","legend":null,"scale":{"domain":[396,450,520,650,760,850,900,963,1100,1153,1230,1306,1383,1440,1498,1520],"range":["#e6e010","#f0e01a","#f8d020","#fcb93a","#c8c85c","#90c86e","#6cc47e","#44c090","#1eaeaa","#16a0b8","#1688c8","#1670c8","#1a50a8","#222f8f","#1e1a68","#180f50"]}}}},
{"data":{"name":"lowBands"},"mark":{"type":"rule","strokeWidth":6},"encoding":{"x":{"field":"ax","type":"quantitative","axis":null,"scale":{"domain":[0,3950],"nice":false,"zero":false}},"x2":{"field":"bx"},"y":{"field":"v","type":"quantitative","axis":null,"scale":{"domain":[1804,0],"nice":false,"zero":false}},"y2":{"field":"v"},"color":{"field":"v","type":"quantitative","legend":null,"scale":{"domain":[396,450,520,650,760,850,900,963,1100,1153,1230,1306,1383,1440,1498,1520],"range":["#e6e010","#f0e01a","#f8d020","#fcb93a","#c8c85c","#90c86e","#6cc47e","#44c090","#1eaeaa","#16a0b8","#1688c8","#1670c8","#1a50a8","#222f8f","#1e1a68","#180f50"]}}}},
{"data":{"name":"bands"},"mark":{"type":"rule","strokeWidth":5.5},"encoding":{"x":{"field":"ax","type":"quantitative","axis":null,"scale":{"domain":[0,3950],"nice":false,"zero":false}},"x2":{"field":"bx"},"y":{"field":"v","type":"quantitative","axis":null,"scale":{"domain":[1804,0],"nice":false,"zero":false}},"y2":{"field":"v"},"color":{"field":"v","type":"quantitative","legend":null,"scale":{"domain":[396,450,520,650,760,850,900,963,1100,1153,1230,1306,1383,1440,1498,1520],"range":["#e6e010","#f0e01a","#f8d020","#fcb93a","#c8c85c","#90c86e","#6cc47e","#44c090","#1eaeaa","#16a0b8","#1688c8","#1670c8","#1a50a8","#222f8f","#1e1a68","#180f50"]}}}},
{"data":{"name":"bands"},"mark":{"type":"rule","strokeWidth":5},"encoding":{"x":{"field":"lu","type":"quantitative","axis":null,"scale":{"domain":[0,3950],"nice":false,"zero":false}},"x2":{"field":"ax"},"y":{"field":"lv","type":"quantitative","axis":null,"scale":{"domain":[1804,0],"nice":false,"zero":false}},"y2":{"field":"v"},"color":{"field":"v","type":"quantitative","legend":null,"scale":{"domain":[396,450,520,650,760,850,900,963,1100,1153,1230,1306,1383,1440,1498,1520],"range":["#e6e010","#f0e01a","#f8d020","#fcb93a","#c8c85c","#90c86e","#6cc47e","#44c090","#1eaeaa","#16a0b8","#1688c8","#1670c8","#1a50a8","#222f8f","#1e1a68","#180f50"]}}}},
{"data":{"name":"bands"},"mark":{"type":"rule","strokeWidth":5},"encoding":{"x":{"field":"bx","type":"quantitative","axis":null,"scale":{"domain":[0,3950],"nice":false,"zero":false}},"x2":{"field":"ru"},"y":{"field":"v","type":"quantitative","axis":null,"scale":{"domain":[1804,0],"nice":false,"zero":false}},"y2":{"field":"rv"},"color":{"field":"v","type":"quantitative","legend":null,"scale":{"domain":[396,450,520,650,760,850,900,963,1100,1153,1230,1306,1383,1440,1498,1520],"range":["#e6e010","#f0e01a","#f8d020","#fcb93a","#c8c85c","#90c86e","#6cc47e","#44c090","#1eaeaa","#16a0b8","#1688c8","#1670c8","#1a50a8","#222f8f","#1e1a68","#180f50"]}}}},
{"data":{"name":"shade"},"mark":{"type":"line","stroke":"#000000","strokeWidth":36,"opacity":0.28,"strokeCap":"butt","interpolate":"monotone"},"encoding":{"x":{"field":"u","type":"quantitative","axis":null,"scale":{"domain":[0,3950],"nice":false,"zero":false}},"y":{"field":"v","type":"quantitative","axis":null,"scale":{"domain":[1804,0],"nice":false,"zero":false}},"detail":{"field":"m"},"order":{"field":"v"}}},
{"data":{"name":"meridians"},"mark":{"type":"line","stroke":"#0a0a0a","strokeWidth":3},"encoding":{"x":{"field":"u","type":"quantitative","axis":null,"scale":{"domain":[0,3950],"nice":false,"zero":false}},"y":{"field":"v","type":"quantitative","axis":null,"scale":{"domain":[1804,0],"nice":false,"zero":false}},"detail":{"field":"m"},"order":{"field":"v"}}},
{"data":{"name":"hull"},"mark":{"type":"line","stroke":"#050505","strokeWidth":6,"interpolate":"monotone"},"encoding":{"x":{"field":"u","type":"quantitative","axis":null,"scale":{"domain":[0,3950],"nice":false,"zero":false}},"y":{"field":"v","type":"quantitative","axis":null,"scale":{"domain":[1804,0],"nice":false,"zero":false}}}}
]}
